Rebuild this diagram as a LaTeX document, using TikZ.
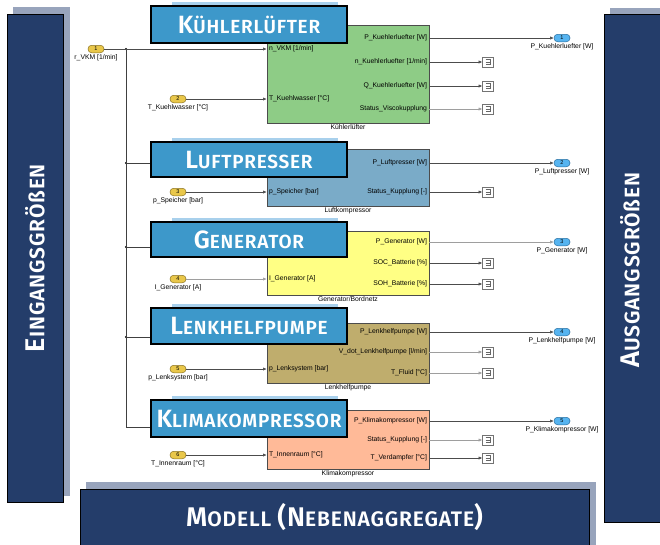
\documentclass[tikz,border=0pt]{standalone}
\usepackage{fontspec}
\setmainfont{Liberation Sans}
\newfontfamily\capsfont{Fira Sans SemiBold}[LetterSpace=4]
\usetikzlibrary{arrows.meta}

\definecolor{navy}{HTML}{243D6A}
\definecolor{shadowgray}{HTML}{98A4BC}
\definecolor{titleblue}{HTML}{3D98CA}
\definecolor{stripblue}{HTML}{A8D0EC}
\definecolor{greenblk}{HTML}{8ECC86}
\definecolor{steelblk}{HTML}{7AABC8}
\definecolor{yellowblk}{HTML}{FFFF84}
\definecolor{khakiblk}{HTML}{BFAD6D}
\definecolor{salmonblk}{HTML}{FFBA98}
\definecolor{inyellow}{HTML}{E9C74A}
\definecolor{inborder}{HTML}{8A7224}
\definecolor{outblue}{HTML}{56B4F0}
\definecolor{outborder}{HTML}{2A6FA0}

% first letter large, the rest as small capitals (block titles)
\newcommand{\capsword}[2]{{\fontsize{25}{25}\selectfont #1}{\fontsize{19}{19}\selectfont #2}}
% same, a size larger, for the panel captions
\newcommand{\panelword}[2]{{\fontsize{27}{27}\selectfont #1}{\fontsize{21}{21}\selectfont #2}}

\begin{document}
\begin{tikzpicture}[x=1pt,y=-1pt,
  panel/.style={draw=black, line width=0.9pt, fill=navy, inner sep=0},
  paneltext/.style={text=white, font=\capsfont, inner sep=0},
  titlebox/.style={draw=black, line width=1.2pt, fill=titleblue, minimum width=196pt,
    inner sep=0, text=white, font=\capsfont},
  block/.style={draw=black!70, line width=0.7pt, minimum width=162pt, inner sep=0},
  portlbl/.style={font=\fontsize{6.8}{7.5}\selectfont, inner sep=0.8pt},
  blkname/.style={font=\fontsize{6.8}{7.5}\selectfont, inner sep=0, anchor=north},
  inport/.style={draw=inborder, line width=0.5pt, fill=inyellow, rounded corners=3.6pt,
    minimum width=16pt, minimum height=7.5pt, inner sep=0, font=\fontsize{5.5}{5.5}\selectfont},
  outport/.style={draw=outborder, line width=0.5pt, fill=outblue, rounded corners=3.6pt,
    minimum width=16pt, minimum height=7.5pt, inner sep=0, font=\fontsize{5.5}{5.5}\selectfont},
  iolbl/.style={font=\fontsize{6.8}{7.5}\selectfont, inner sep=0, anchor=north},
  term/.style={draw=black!55, line width=0.5pt, fill=white, minimum width=11pt,
    minimum height=10pt, inner sep=0,
    path picture={\draw[black!60, line width=0.5pt]
      ([shift={(-2.5pt,2.5pt)}]path picture bounding box.center) -- ++(5pt,0pt)
      -- ++(0pt,-5pt) -- ++(-5pt,0pt)
      ([shift={(-2.5pt,0pt)}]path picture bounding box.center) -- ++(5pt,0pt);}},
  sig/.style={line width=0.55pt, draw=black!70, -{Latex[length=3.6pt,width=3.2pt]}},
  sigl/.style={sig, draw=black!38},
  bus/.style={line width=0.55pt, draw=black!75},
  junction/.style={circle, fill=black, inner sep=0, minimum size=2.2pt}
]
\clip (0,0) rectangle (660,544);
\fill[white] (0,0) rectangle (660,544);

% ---- side and bottom panels ----
\fill[shadowgray] (13,7) rectangle (70,496);
\node[panel, minimum width=56pt, minimum height=488pt] (inpanel) at (35,258) {};
\node[paneltext, rotate=90] (intext) at (35,258) {\panelword{E}{INGANGSGRÖßEN}};

\fill[shadowgray] (610,8) rectangle (676,516);
\node[panel, minimum width=66pt, minimum height=508pt] (outpanel) at (637,268) {};
\node[paneltext, rotate=90] (outtext) at (630,270) {\panelword{A}{USGANGSGRÖßEN}};

\fill[shadowgray] (86,482) rectangle (596,552);
\node[panel, minimum width=509pt, minimum height=71pt] (modpanel) at (334.5,524.5) {};
\node[paneltext] (modtext) at (334.5,517) {\panelword{M}{ODELL }\panelword{(N}{EBENAGGREGATE}\panelword{)}{}};

% ---- subsystem blocks ----
\node[block, fill=greenblk, minimum height=98pt] (kl) at (348,74) {};
\node[block, fill=steelblk, minimum height=57pt] (lk) at (348,177.5) {};
\node[block, fill=yellowblk, minimum height=64pt] (gen) at (348,263) {};
\node[block, fill=khakiblk, minimum height=60pt] (lhp) at (348,353) {};
\node[block, fill=salmonblk, minimum height=59pt] (kk) at (348,439.5) {};

\node[blkname] (kln) at ([yshift=-1.5pt]kl.south) {Kühlerlüfter};
\node[blkname] (lkn) at ([yshift=-1.5pt]lk.south) {Luftkompressor};
\node[blkname] (genn) at ([yshift=-1.5pt]gen.south) {Generator/Bordnetz};
\node[blkname] (lhpn) at ([yshift=-1.5pt]lhp.south) {Lenkhelfpumpe};
\node[blkname] (kkn) at ([yshift=-1.5pt]kk.south) {Klimakompressor};

% port labels, inputs
\node[portlbl, anchor=west] (kli1) at (268,49) {n\_VKM [1/min]};
\node[portlbl, anchor=west] (kli2) at (268,99) {T\_Kuehlwasser [°C]};
\node[portlbl, anchor=west] (lki1) at (268,192) {p\_Speicher [bar]};
\node[portlbl, anchor=west] (geni1) at (268,279) {I\_Generator [A]};
\node[portlbl, anchor=west] (lhpi1) at (268,369) {p\_Lenksystem [bar]};
\node[portlbl, anchor=west] (kki1) at (268,455) {T\_Innenraum [°C]};

% port labels, outputs
\node[portlbl, anchor=east] (klo1) at (428,38) {P\_Kuehlerluefter [W]};
\node[portlbl, anchor=east] (klo2) at (428,62) {n\_Kuehlerluefter [1/min]};
\node[portlbl, anchor=east] (klo3) at (428,86) {Q\_Kuehlerluefter [W]};
\node[portlbl, anchor=east] (klo4) at (428,109) {Status\_Viscokupplung};
\node[portlbl, anchor=east] (lko1) at (428,163) {P\_Luftpresser [W]};
\node[portlbl, anchor=east] (lko2) at (428,192) {Status\_Kupplung [-]};
\node[portlbl, anchor=east] (geno1) at (428,242) {P\_Generator [W]};
\node[portlbl, anchor=east] (geno2) at (428,263) {SOC\_Batterie [\%]};
\node[portlbl, anchor=east] (geno3) at (428,284) {SOH\_Batterie [\%]};
\node[portlbl, anchor=east] (lhpo1) at (428,332) {P\_Lenkhelfpumpe [W]};
\node[portlbl, anchor=east] (lhpo2) at (428,352) {V\_dot\_Lenkhelfpumpe [l/min]};
\node[portlbl, anchor=east] (lhpo3) at (428,373) {T\_Fluid [°C]};
\node[portlbl, anchor=east] (kko1) at (428,421) {P\_Klimakompressor [W]};
\node[portlbl, anchor=east] (kko2) at (428,440) {Status\_Kupplung [-]};
\node[portlbl, anchor=east] (kko3) at (428,458) {T\_Verdampfer [°C]};

% ---- title boxes with their light backing strips ----
\fill[stripblue] (172,2) rectangle (338,20);
\node[titlebox, minimum height=37pt] (klt) at (249,24.5) {\capsword{K}{ÜHLERLÜFTER}};
\fill[stripblue] (172,138) rectangle (338,150);
\node[titlebox, minimum height=35pt] (lkt) at (249,159.5) {\capsword{L}{UFTPRESSER}};
\fill[stripblue] (172,218) rectangle (338,230);
\node[titlebox, minimum height=35pt] (gent) at (249,239.5) {\capsword{G}{ENERATOR}};
\fill[stripblue] (172,304) rectangle (338,316);
\node[titlebox, minimum height=36pt] (lhpt) at (249,326) {\capsword{L}{ENKHELFPUMPE}};
\fill[stripblue] (172,396) rectangle (338,408);
\node[titlebox, minimum height=37pt] (kkt) at (249,418.5) {\capsword{K}{LIMAKOMPRESSOR}};

% ---- inports ----
\node[inport] (in1) at (96,49) {1};
\node[iolbl] (in1l) at ([yshift=-1.2pt]in1.south) {r\_VKM [1/min]};
\node[inport] (in2) at (178,99) {2};
\node[iolbl] (in2l) at ([yshift=-1.2pt]in2.south) {T\_Kuehlwasser [°C]};
\node[inport] (in3) at (178,192) {3};
\node[iolbl] (in3l) at ([yshift=-1.2pt]in3.south) {p\_Speicher [bar]};
\node[inport] (in4) at (178,279) {4};
\node[iolbl] (in4l) at ([yshift=-1.2pt]in4.south) {I\_Generator [A]};
\node[inport] (in5) at (178,369) {5};
\node[iolbl] (in5l) at ([yshift=-1.2pt]in5.south) {p\_Lenksystem [bar]};
\node[inport] (in6) at (178,455) {6};
\node[iolbl] (in6l) at ([yshift=-1.2pt]in6.south) {T\_Innenraum [°C]};

% ---- outports ----
\node[outport] (op1) at (562,38) {1};
\node[iolbl] (op1l) at ([yshift=-1.2pt]op1.south) {P\_Kuehlerluefter [W]};
\node[outport] (op2) at (562,163) {2};
\node[iolbl] (op2l) at ([yshift=-1.2pt]op2.south) {P\_Luftpresser [W]};
\node[outport] (op3) at (562,242) {3};
\node[iolbl] (op3l) at ([yshift=-1.2pt]op3.south) {P\_Generator [W]};
\node[outport] (op4) at (562,332) {4};
\node[iolbl] (op4l) at ([yshift=-1.2pt]op4.south) {P\_Lenkhelfpumpe [W]};
\node[outport] (op5) at (562,421) {5};
\node[iolbl] (op5l) at ([yshift=-1.2pt]op5.south) {P\_Klimakompressor [W]};

% ---- terminators ----
\node[term] (t11) at (488,62) {};
\node[term] (t12) at (488,86) {};
\node[term] (t13) at (488,109) {};
\node[term] (t21) at (488,192) {};
\node[term] (t31) at (488,263) {};
\node[term] (t32) at (488,284) {};
\node[term] (t41) at (488,352) {};
\node[term] (t42) at (488,373) {};
\node[term] (t51) at (488,440) {};
\node[term] (t52) at (488,458) {};

% ---- speed bus ----
\node[junction] (j1) at (126,49) {};
\node[junction] (j2) at (126,163) {};
\node[junction] (j3) at (126,247) {};
\node[junction] (j4) at (126,337) {};
\coordinate (bend) at (126,427);
\draw[bus] (j1) -- (bend) -- (kkt.west |- bend);
\draw[bus] (j2) -- (lkt.west |- j2);
\draw[bus] (j3) -- (gent.west |- j3);
\draw[bus] (j4) -- (lhpt.west |- j4);

% ---- input signals ----
\draw[sig] (in1.east) -- (kl.west |- in1);
\draw[sig] (in2.east) -- (kl.west |- in2);
\draw[sig] (in3.east) -- (lk.west |- in3);
\draw[sigl] (in4.east) -- (gen.west |- in4);
\draw[sig] (in5.east) -- (lhp.west |- in5);
\draw[sig] (in6.east) -- (kk.west |- in6);

% ---- output signals ----
\draw[sig] (kl.east |- op1) -- (op1.west);
\draw[sig] (kl.east |- t11) -- (t11.west);
\draw[sig] (kl.east |- t12) -- (t12.west);
\draw[sigl] (kl.east |- t13) -- (t13.west);
\draw[sig] (lk.east |- op2) -- (op2.west);
\draw[sig] (lk.east |- t21) -- (t21.west);
\draw[sigl] (gen.east |- op3) -- (op3.west);
\draw[sig] (gen.east |- t31) -- (t31.west);
\draw[sig] (gen.east |- t32) -- (t32.west);
\draw[sig] (lhp.east |- op4) -- (op4.west);
\draw[sigl] (lhp.east |- t41) -- (t41.west);
\draw[sigl] (lhp.east |- t42) -- (t42.west);
\draw[sig] (kk.east |- op5) -- (op5.west);
\draw[sigl] (kk.east |- t51) -- (t51.west);
\draw[sig] (kk.east |- t52) -- (t52.west);
\end{tikzpicture}
\end{document}
